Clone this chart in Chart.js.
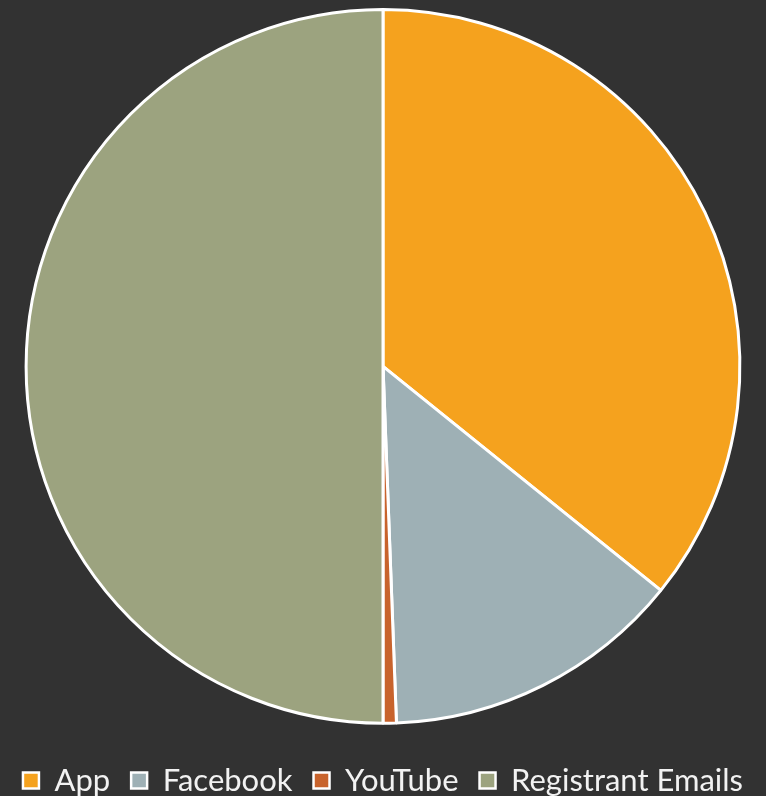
<!DOCTYPE html>
<html>
<head>
<meta charset="utf-8">
<script src="https://cdn.jsdelivr.net/npm/chart.js@4"></script>
<style>
  html, body { margin: 0; padding: 0; background: #323232; }
  #wrap { width: 766px; height: 796px; }
</style>
</head>
<body>
<div id="wrap"><canvas id="myChart1"></canvas></div>
<script>
const categorias = ['App', 'Facebook', 'YouTube', 'Registrant Emails'];
const valores = [35.8, 13.6, 0.6, 50.0];
const colores = ['#F5A21E', '#9EB0B5', '#C8632C', '#9CA37F'];

const ctx = document.getElementById('myChart1');

new Chart(ctx, {
  type: 'pie',
  data: {
    labels: categorias,
    datasets: [{
      data: valores,
      backgroundColor: colores,
      borderColor: '#FFFFFF',
      borderWidth: 3,
      hoverOffset: 0
    }]
  },
  options: {
    responsive: true,
    maintainAspectRatio: false,
    animation: false,
    // el padding negativo empuja la leyenda hacia abajo
    layout: { padding: { top: 8, bottom: -10 } },
    plugins: {
      tooltip: { enabled: false },
      legend: {
        position: 'bottom',
        title: { display: true, text: '', font: { size: 1 }, padding: { top: 0, bottom: 18 } },
        labels: {
          color: '#F2F2F2',
          font: { family: 'Lato', size: 31 },
          boxWidth: 16,
          boxHeight: 16,
          padding: 21,
          generateLabels: (chart) => {
            const ds = chart.data.datasets[0];
            return chart.data.labels.map((l, i) => ({
              text: l,
              fillStyle: ds.backgroundColor[i],
              strokeStyle: '#FFFFFF',
              lineWidth: 2.5,
              fontColor: '#F2F2F2',
              index: i
            }));
          }
        }
      }
    }
  }
});
</script>
</body>
</html>
